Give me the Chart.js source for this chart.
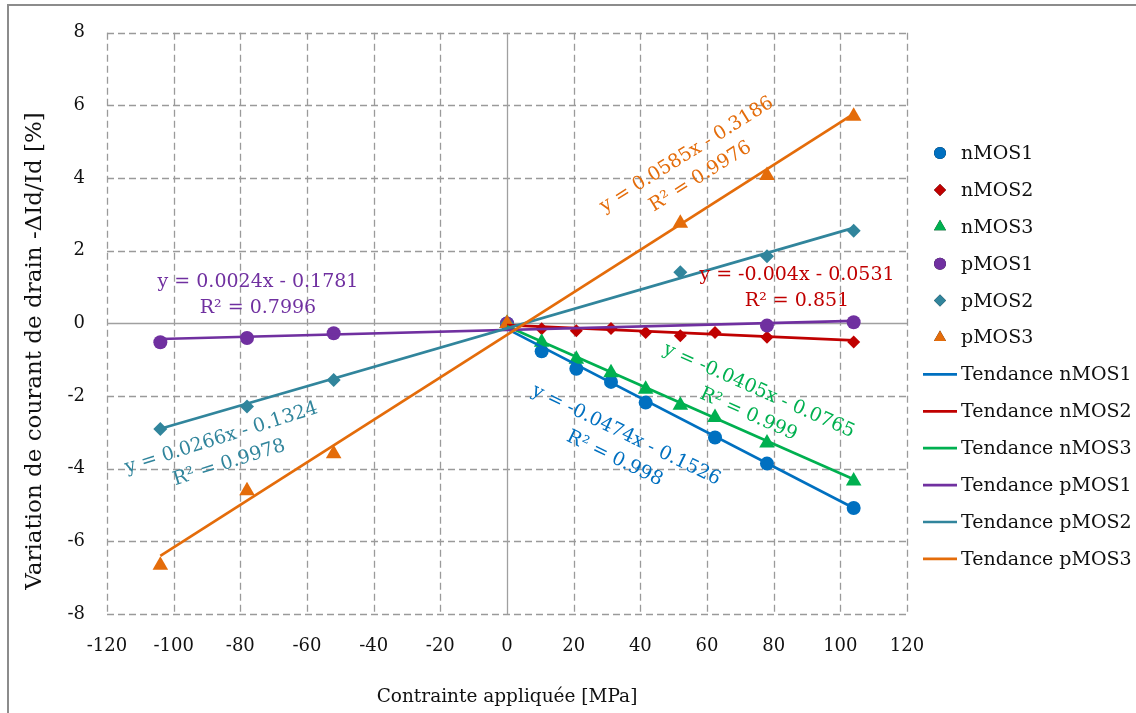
<!DOCTYPE html>
<html>
<head>
<meta charset="utf-8">
<script src="https://cdn.jsdelivr.net/npm/chart.js@4.4.0/dist/chart.umd.min.js"></script>
<style>
  body { margin: 0; background: #fff; }
</style>
</head>
<body>
<canvas id="chart" width="1136" height="713"></canvas>
<script>
// measured points, stress in MPa, drain current variation in %
var seriesNames = ['nMOS1', 'nMOS2', 'nMOS3', 'pMOS1', 'pMOS2', 'pMOS3'];

var nMOS1_x = [0, 10.4, 20.8, 31.2, 41.6, 62.4, 78, 104];
var nMOS1_y = [0, -0.77, -1.25, -1.61, -2.18, -3.14, -3.86, -5.08];

var nMOS2_x = [0, 10.4, 20.8, 31.2, 41.6, 52, 62.4, 78, 104];
var nMOS2_y = [0, -0.15, -0.20, -0.14, -0.25, -0.34, -0.25, -0.38, -0.51];

var nMOS3_x = [0, 10.4, 20.8, 31.2, 41.6, 52, 62.4, 78, 104];
var nMOS3_y = [0, -0.52, -0.99, -1.36, -1.81, -2.25, -2.59, -3.29, -4.34];

var pMOS1_x = [-104, -78, -52, 0, 78, 104];
var pMOS1_y = [-0.52, -0.40, -0.27, 0, -0.06, 0.03];

var pMOS2_x = [-104, -78, -52, 0, 52, 78, 104];
var pMOS2_y = [-2.91, -2.29, -1.56, 0, 1.41, 1.85, 2.55];

var pMOS3_x = [-104, -78, -52, 0, 52, 78, 104];
var pMOS3_y = [-6.66, -4.61, -3.59, 0, 2.76, 4.07, 5.70];

// trend lines, end points
var trendN_x = [0, 104];
var trendP_x = [-104, 104];
var trend_nMOS1 = [-0.15, -5.08];
var trend_nMOS2 = [-0.05, -0.47];
var trend_nMOS3 = [-0.08, -4.29];
var trend_pMOS1 = [-0.43, 0.07];
var trend_pMOS2 = [-2.90, 2.63];
var trend_pMOS3 = [-6.40, 5.77];

var eqText = ['y = -0.0474x - 0.1526', 'y = -0.004x - 0.0531', 'y = -0.0405x - 0.0765',
              'y = 0.0024x - 0.1781', 'y = 0.0266x - 0.1324', 'y = 0.0585x - 0.3186'];
var r2Text = ['R\u00b2 = 0.998', 'R\u00b2 = 0.851', 'R\u00b2 = 0.999',
              'R\u00b2 = 0.7996', 'R\u00b2 = 0.9978', 'R\u00b2 = 0.9976'];

var xTicks = [-120, -100, -80, -60, -40, -20, 0, 20, 40, 60, 80, 100, 120];
var yTicks = [-8, -6, -4, -2, 0, 2, 4, 6, 8];

var colors = ['#0070c0', '#c00000', '#00b050', '#7030a0', '#31859c', '#e46c0a'];
var shapes = ['circle', 'rectRot', 'triangle', 'circle', 'rectRot', 'triangle'];
var sizes = [7, 6.5, 9, 7, 7, 9];

// label anchors in data units + rotation (deg)
var labelPos = [[34, -3.40, 26], [87, 0.98, 0], [74, -2.18, 24],
                [-74.7, 0.78, 0], [-84.5, -3.50, -17.5], [56, 4.34, -32]];

var FONT = "'DejaVu Serif', 'Liberation Serif', serif";

function pts(xs, ys) {
    return xs.map(function (x, i) { return { x: x, y: ys[i] }; });
}

var scatterX = [nMOS1_x, nMOS2_x, nMOS3_x, pMOS1_x, pMOS2_x, pMOS3_x];
var scatterY = [nMOS1_y, nMOS2_y, nMOS3_y, pMOS1_y, pMOS2_y, pMOS3_y];
var trendX = [trendN_x, trendN_x, trendN_x, trendP_x, trendP_x, trendP_x];
var trendY = [trend_nMOS1, trend_nMOS2, trend_nMOS3, trend_pMOS1, trend_pMOS2, trend_pMOS3];

var datasets = [];
seriesNames.forEach(function (name, i) {
    datasets.push({
        type: 'scatter',
        label: name,
        data: pts(scatterX[i], scatterY[i]),
        pointStyle: shapes[i],
        pointRadius: sizes[i],
        pointHoverRadius: sizes[i],
        backgroundColor: colors[i],
        borderColor: colors[i],
        borderWidth: 0,
        order: 20 - i
    });
});
seriesNames.forEach(function (name, i) {
    datasets.push({
        type: 'line',
        label: 'Tendance ' + name,
        data: pts(trendX[i], trendY[i]),
        borderColor: colors[i],
        borderWidth: 2.7,
        pointRadius: 0,
        fill: false,
        order: 10 - i
    });
});

var framePlugin = {
    id: 'framePlugin',
    beforeDraw: function (chart) {
        var ctx = chart.ctx;
        ctx.save();
        ctx.fillStyle = '#fff';
        ctx.fillRect(0, 0, chart.width, chart.height);
        ctx.strokeStyle = '#8c8c8c';
        ctx.lineWidth = 2;
        ctx.strokeRect(8, 5, chart.width + 20, chart.height + 20);
        // y axis title, Excel puts it a bit lower than the plot centre
        ctx.font = '23px ' + FONT;
        ctx.fillStyle = '#111';
        ctx.textAlign = 'center';
        ctx.textBaseline = 'middle';
        ctx.translate(35, 351);
        ctx.rotate(-Math.PI / 2);
        ctx.fillText('Variation de courant de drain -\u0394Id/Id [%]', 0, 0);
        ctx.restore();
    }
};

var gridPlugin = {
    id: 'gridPlugin',
    beforeDatasetsDraw: function (chart) {
        var ctx = chart.ctx, sx = chart.scales.x, sy = chart.scales.y, a = chart.chartArea;
        ctx.save();
        ctx.strokeStyle = '#9a9a9a';
        ctx.lineWidth = 1.3;
        ctx.setLineDash([7, 4]);
        xTicks.forEach(function (v) {
            if (v === 0) return;
            var px = Math.round(sx.getPixelForValue(v)) + 0.5;
            ctx.beginPath(); ctx.moveTo(px, a.top); ctx.lineTo(px, a.bottom); ctx.stroke();
        });
        yTicks.forEach(function (v) {
            if (v === 0) return;
            var py = Math.round(sy.getPixelForValue(v)) + 0.5;
            ctx.beginPath(); ctx.moveTo(a.left, py); ctx.lineTo(a.right, py); ctx.stroke();
        });
        // axes crossing at zero
        ctx.setLineDash([]);
        ctx.strokeStyle = '#a0a0a0';
        var x0 = Math.round(sx.getPixelForValue(0)) + 0.5;
        var y0 = Math.round(sy.getPixelForValue(0)) + 0.5;
        ctx.beginPath(); ctx.moveTo(x0, a.top); ctx.lineTo(x0, a.bottom); ctx.stroke();
        ctx.beginPath(); ctx.moveTo(a.left, y0); ctx.lineTo(a.right, y0); ctx.stroke();
        ctx.restore();
    }
};

var eqPlugin = {
    id: 'eqPlugin',
    afterDatasetsDraw: function (chart) {
        var ctx = chart.ctx, sx = chart.scales.x, sy = chart.scales.y;
        ctx.save();
        ctx.font = '19px ' + FONT;
        ctx.textAlign = 'center';
        ctx.textBaseline = 'middle';
        labelPos.forEach(function (p, i) {
            ctx.save();
            ctx.translate(sx.getPixelForValue(p[0]), sy.getPixelForValue(p[1]));
            ctx.rotate(p[2] * Math.PI / 180);
            ctx.fillStyle = colors[i];
            ctx.fillText(eqText[i], 0, -13);
            ctx.fillText(r2Text[i], 0, 13);
            ctx.restore();
        });
        ctx.restore();
    }
};

var legendPlugin = {
    id: 'legendPlugin',
    afterDraw: function (chart) {
        var ctx = chart.ctx;
        ctx.save();
        ctx.font = '19px ' + FONT;
        ctx.textBaseline = 'middle';
        ctx.textAlign = 'left';
        chart.data.datasets.forEach(function (ds, i) {
            var y = 153 + i * 36.9;
            var c = colors[i % 6];
            if (ds.type === 'scatter') {
                Chart.helpers.drawPoint(ctx, {
                    pointStyle: shapes[i], radius: shapes[i] === 'triangle' ? 7 : 6, rotation: 0, borderWidth: 0
                }, 940, y);
                ctx.fillStyle = c;
                ctx.fill();
            } else {
                ctx.strokeStyle = c;
                ctx.lineWidth = 2.7;
                ctx.beginPath(); ctx.moveTo(923, y); ctx.lineTo(957, y); ctx.stroke();
            }
            ctx.fillStyle = '#111';
            ctx.fillText(ds.label, 961, y + 1);
        });
        ctx.restore();
    }
};

var chart = new Chart(document.getElementById('chart'), {
    type: 'scatter',
    data: { datasets: datasets },
    options: {
        responsive: false,
        animation: false,
        devicePixelRatio: 1,
        layout: { padding: { top: 28, right: 229, left: 0, bottom: 0 } },
        plugins: {
            legend: { display: false },
            tooltip: { enabled: false }
        },
        scales: {
            x: {
                type: 'linear',
                min: -120, max: 120,
                afterFit: function (s) { s.height = 99; },
                afterBuildTicks: function (s) { s.ticks = xTicks.map(function (v) { return { value: v }; }); },
                grid: { display: false, drawTicks: false },
                border: { display: false },
                ticks: { color: '#111', font: { family: FONT, size: 18 }, padding: 22, maxRotation: 0 },
                title: {
                    display: true, text: 'Contrainte appliquée [MPa]', color: '#111',
                    font: { family: FONT, size: 18.5 }, padding: { top: 0, bottom: 5 }
                }
            },
            y: {
                type: 'linear',
                min: -8, max: 8,
                afterFit: function (s) { s.width = 107; },
                afterBuildTicks: function (s) { s.ticks = yTicks.map(function (v) { return { value: v }; }); },
                grid: { display: false, drawTicks: false },
                border: { display: false },
                ticks: { color: '#111', font: { family: FONT, size: 18 }, padding: 22 }
            }
        }
    },
    plugins: [framePlugin, gridPlugin, eqPlugin, legendPlugin]
});
</script>
</body>
</html>
